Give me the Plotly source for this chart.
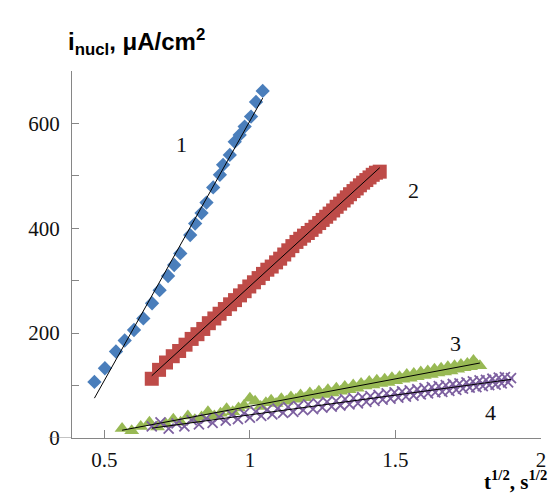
import numpy as np
import plotly.graph_objects as go

# ---------------- data ----------------
x1 = [0.466, 0.502, 0.540, 0.570, 0.602, 0.634, 0.664, 0.690, 0.719, 0.740,
      0.761, 0.795, 0.812, 0.834, 0.851, 0.874, 0.897, 0.908, 0.931, 0.948,
      0.965, 0.982, 1.004, 1.021, 1.044]
y1 = [107, 133, 165, 186, 206, 228, 257, 282, 309, 330,
      352, 387, 409, 429, 449, 478, 502, 521, 540, 565,
      578, 594, 613, 641, 662]

x2 = [0.663, 0.688, 0.712, 0.735, 0.757, 0.779, 0.800, 0.820, 0.840, 0.859,
      0.878, 0.896, 0.914, 0.932, 0.949, 0.966, 0.982, 0.998, 1.014, 1.030,
      1.045, 1.060, 1.075, 1.090, 1.104, 1.118, 1.132, 1.146, 1.160, 1.173,
      1.186, 1.199, 1.212, 1.225, 1.238, 1.250, 1.262, 1.274, 1.286, 1.298,
      1.310, 1.322, 1.333, 1.344, 1.356, 1.367, 1.378, 1.389, 1.400, 1.411,
      1.422, 1.433, 1.446]
y2 = [113, 130, 144, 156, 166, 178, 189, 198, 208, 219,
      228, 237, 246, 255, 263, 272, 280, 289, 297, 305,
      313, 321, 327, 335, 342, 350, 358, 366, 374, 380,
      386, 391, 397, 403, 410, 416, 422, 428, 434, 441,
      447, 453, 459, 465, 471, 476, 482, 487, 492, 497,
      502, 506, 508]

x3 = [0.561, 0.594, 0.625, 0.655, 0.683, 0.711, 0.737, 0.762, 0.787, 0.811,
      0.834, 0.856, 0.878, 0.899, 0.920, 0.941, 0.961, 0.980, 1.000, 1.018,
      1.037, 1.055, 1.073, 1.090, 1.108, 1.125, 1.141, 1.158, 1.174, 1.190,
      1.206, 1.222, 1.237, 1.253, 1.268, 1.283, 1.297, 1.312, 1.326, 1.341,
      1.355, 1.369, 1.382, 1.396, 1.410, 1.423, 1.436, 1.450, 1.463, 1.475,
      1.488, 1.501, 1.514, 1.526, 1.539, 1.551, 1.563, 1.575, 1.587, 1.599,
      1.611, 1.623, 1.634, 1.646, 1.657, 1.669, 1.680, 1.691, 1.703, 1.714,
      1.725, 1.736, 1.747, 1.758, 1.768, 1.779, 1.790]
y3 = [18, 14, 22, 30, 21, 27, 36, 30, 42, 35,
      40, 50, 42, 47, 56, 50, 57, 62, 76, 70,
      60, 67, 72, 66, 75, 70, 78, 74, 82, 77,
      86, 81, 89, 83, 92, 86, 95, 89, 98, 92,
      101, 95, 104, 99, 108, 101, 110, 104, 112, 106,
      115, 109, 117, 112, 121, 114, 123, 117, 126, 119,
      128, 121, 131, 124, 133, 126, 136, 128, 138, 131,
      140, 134, 142, 136, 148, 140, 138]

x4 = [0.663, 0.693, 0.721, 0.748, 0.775, 0.800, 0.825, 0.849, 0.872, 0.894,
      0.917, 0.938, 0.959, 0.980, 1.000, 1.020, 1.039, 1.058, 1.077, 1.095,
      1.114, 1.131, 1.149, 1.166, 1.183, 1.200, 1.217, 1.233, 1.249, 1.265,
      1.281, 1.296, 1.311, 1.327, 1.342, 1.356, 1.371, 1.386, 1.400, 1.414,
      1.428, 1.442, 1.456, 1.470, 1.483, 1.497, 1.510, 1.523, 1.536, 1.549,
      1.562, 1.575, 1.587, 1.600, 1.612, 1.625, 1.637, 1.649, 1.661, 1.673,
      1.685, 1.697, 1.709, 1.720, 1.732, 1.744, 1.755, 1.766, 1.778, 1.789,
      1.800, 1.811, 1.822, 1.833, 1.844, 1.855, 1.865, 1.876, 1.887, 1.897]
y4 = [22, 30, 18, 28, 22, 34, 26, 37, 29, 40,
      33, 44, 36, 47, 39, 50, 42, 53, 45, 56,
      48, 59, 50, 61, 53, 64, 55, 66, 58, 69,
      60, 71, 62, 74, 64, 76, 66, 78, 69, 80,
      71, 82, 73, 85, 75, 87, 77, 89, 79, 91,
      81, 93, 83, 95, 85, 97, 87, 99, 88, 101,
      90, 103, 92, 104, 94, 106, 96, 108, 97, 110,
      99, 111, 101, 113, 102, 115, 104, 116, 106, 114]

series_labels = ["1", "2", "3", "4"]
label_pos_x = [0.765, 1.561, 1.707, 1.827]
label_pos_y = [559, 473, 181, 48]

x_ticks = [0.5, 1, 1.5, 2]
x_ticktext = ["0.5", "1", "1.5", "2"]
y_ticks = [0, 200, 400, 600]

# ---------------- figure ----------------
colors = ["#4A7EBB", "#BE4B48", "#98B954", "#7D60A0"]
fig = go.Figure()

fig.add_trace(go.Scatter(x=x1, y=y1, mode="markers",
                         marker=dict(symbol="diamond", size=11, color=colors[0])))
fig.add_trace(go.Scatter(x=x2, y=y2, mode="markers",
                         marker=dict(symbol="square", size=14, color=colors[1])))
fig.add_trace(go.Scatter(x=x3, y=y3, mode="markers",
                         marker=dict(symbol="triangle-up", size=13, color=colors[2])))
fig.add_trace(go.Scatter(x=x4, y=y4, mode="markers",
                         marker=dict(symbol="x-thin", size=10, color=colors[3],
                                     line=dict(color=colors[3], width=1.8))))

for xs, ys in [(x1, y1), (x2, y2), (x3, y3), (x4, y4)]:
    k, b = np.polyfit(xs, ys, 1)
    xl = [min(xs), max(xs)]
    fig.add_trace(go.Scatter(x=xl, y=[k * v + b for v in xl], mode="lines",
                             line=dict(color="black", width=1)))

for t, lx, ly in zip(series_labels, label_pos_x, label_pos_y):
    fig.add_annotation(x=lx, y=ly, text=t, showarrow=False,
                       font=dict(family="Liberation Serif", size=22, color="#111"))

fig.add_annotation(xref="paper", yref="paper", x=-0.013, y=1.079, xanchor="left",
                   yanchor="middle", showarrow=False,
                   text="<b>i<sub>nucl</sub>, μA/cm<sup>2</sup></b>",
                   font=dict(family="Liberation Sans", size=24, color="black"))
fig.add_annotation(xref="paper", yref="paper", x=1.017, y=-0.116, xanchor="right",
                   yanchor="middle", showarrow=False,
                   text="<b>t<sup>1/2</sup>, s<sup>1/2</sup></b>",
                   font=dict(family="Liberation Serif", size=21, color="black"))

fig.add_shape(type="line", xref="paper", yref="y", x0=-0.05, x1=0, y0=0, y1=0,
              line=dict(color="#868686", width=1))

fig.update_layout(
    width=555, height=494,
    margin=dict(l=72, r=9, t=71, b=56),
    paper_bgcolor="white", plot_bgcolor="white",
    showlegend=False,
    xaxis=dict(range=[0.389, 2.0], tickvals=x_ticks, ticktext=x_ticktext,
               ticks="inside", ticklen=8, tickcolor="#868686",
               showline=True, linecolor="#868686", linewidth=1,
               showgrid=False, zeroline=False, ticklabelstandoff=3,
               tickfont=dict(family="Liberation Serif", size=21, color="#111")),
    yaxis=dict(range=[0, 700], tickvals=y_ticks,
               ticks="inside", ticklen=7, tickcolor="#868686",
               minor=dict(dtick=100, tick0=0, ticks="inside", ticklen=7, tickcolor="#868686"),
               showline=True, linecolor="#868686", linewidth=1,
               showgrid=False, zeroline=False, ticklabelstandoff=7,
               tickfont=dict(family="Liberation Serif", size=21, color="#111")),
)

fig.write_html("out.html")
